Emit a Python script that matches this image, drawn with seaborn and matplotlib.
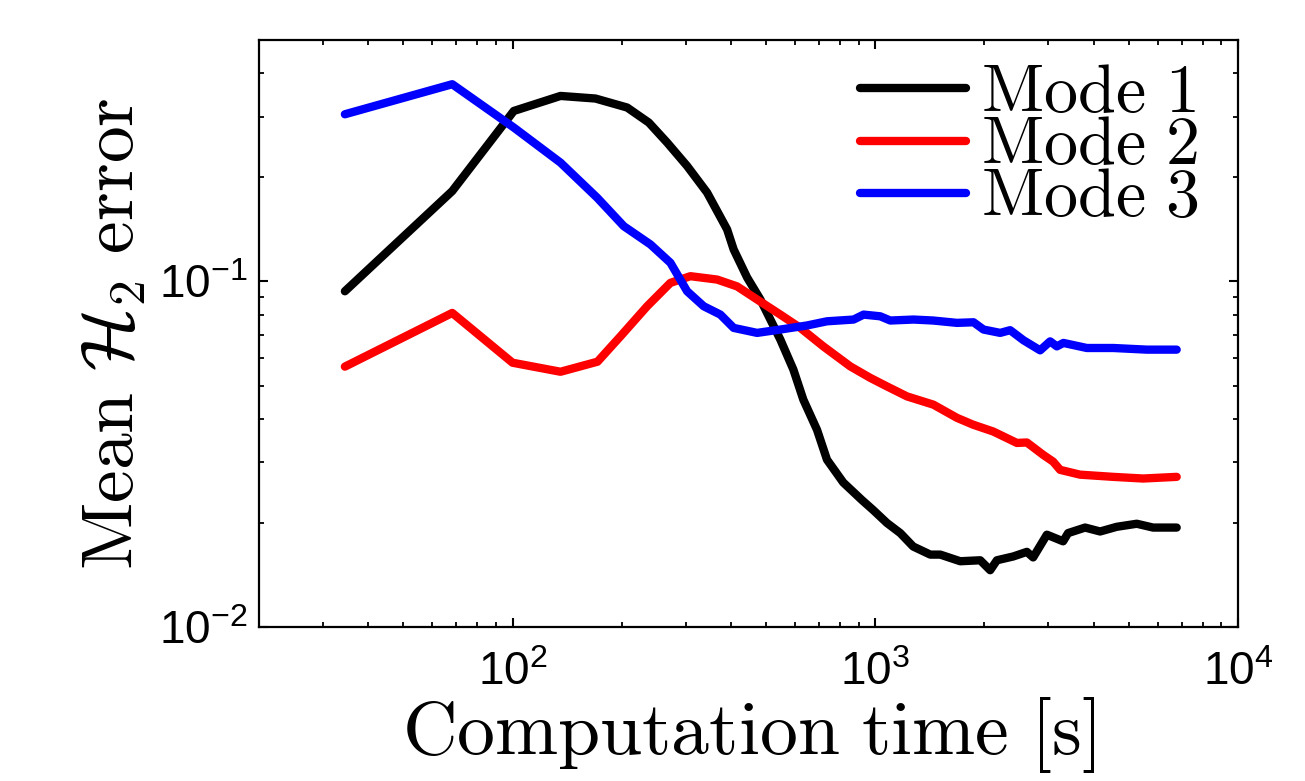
import numpy as np
import pandas as pd
import matplotlib
matplotlib.use("Agg")
import matplotlib.pyplot as plt
import matplotlib.ticker as mticker
import seaborn as sns

# values (log-log axes)
mode1_t = [34.5, 68.2, 100.8, 135.6, 169.3, 207, 237.5, 266.9, 302.9, 343.9, 390.4, 407,
           443.3, 482.3, 547.4, 594.6, 633.4, 691, 736, 816, 919, 987, 1077, 1172, 1272,
           1418, 1511, 1715, 1947, 2074, 2164, 2400, 2618, 2724, 2972, 3295, 3401, 3789,
           4167, 4633, 5259, 5833, 6776]
mode1_err = [0.0937, 0.1827, 0.3116, 0.3444, 0.3385, 0.3188, 0.2884, 0.2523, 0.2159, 0.1808,
             0.1415, 0.1238, 0.1027, 0.0887, 0.0679, 0.0556, 0.0455, 0.0372, 0.0305, 0.0262,
             0.0233, 0.0218, 0.0200, 0.0187, 0.0171, 0.0162, 0.0162, 0.0155, 0.0156, 0.0146,
             0.0156, 0.0160, 0.0165, 0.0159, 0.0185, 0.0177, 0.0187, 0.0194, 0.0189, 0.0195,
             0.0199, 0.0194, 0.0194]

mode2_t = [34.5, 68.2, 100, 135.6, 171.5, 198.4, 235, 272.4, 309.3, 366.4, 415.9, 472.3,
           547.4, 621.5, 719, 853.3, 969, 1077, 1223, 1447, 1680, 1862, 2114, 2457, 2618,
           2903, 3093, 3233, 3670, 4524, 5474, 6776]
mode2_err = [0.0567, 0.0811, 0.0582, 0.0548, 0.0586, 0.0694, 0.0848, 0.0991, 0.1036, 0.1013,
             0.0968, 0.0887, 0.0802, 0.0734, 0.0649, 0.0568, 0.0526, 0.0497, 0.0465, 0.0440,
             0.0403, 0.0385, 0.0368, 0.0341, 0.0342, 0.0315, 0.0301, 0.0285, 0.0276, 0.0272,
             0.0269, 0.0272]

mode3_t = [34.5, 68.2, 100.8, 135.6, 171.1, 202.6, 240, 272.4, 302.9, 336.5, 374.1, 407,
           472.3, 547.4, 648.3, 736, 871.3, 928.6, 1032, 1100, 1275, 1444, 1680, 1866, 1988,
           2210, 2354, 2562, 2848, 3034, 3166, 3302, 3830, 4533, 5603, 6776]
mode3_err = [0.3048, 0.3724, 0.2790, 0.2208, 0.1748, 0.1446, 0.1280, 0.1133, 0.0937, 0.0848,
             0.0802, 0.0734, 0.0710, 0.0726, 0.0746, 0.0767, 0.0776, 0.0802, 0.0793, 0.0771,
             0.0776, 0.0771, 0.0759, 0.0762, 0.0726, 0.0710, 0.0723, 0.0676, 0.0632, 0.0671,
             0.0649, 0.0664, 0.0642, 0.0642, 0.0635, 0.0635]

mode_names = ["Mode 1", "Mode 2", "Mode 3"]
mode_colors = ["#000000", "#ff0000", "#0000ff"]

df = pd.concat([
    pd.DataFrame({"time": mode1_t, "err": mode1_err, "mode": mode_names[0]}),
    pd.DataFrame({"time": mode2_t, "err": mode2_err, "mode": mode_names[1]}),
    pd.DataFrame({"time": mode3_t, "err": mode3_err, "mode": mode_names[2]}),
], ignore_index=True)

sns.set_theme(style="white")
plt.rcParams['font.family'] = ['Liberation Sans', 'DejaVu Sans']
plt.rcParams['mathtext.fontset'] = 'cm'
plt.rcParams['text.color'] = 'black'
plt.rcParams['axes.labelcolor'] = 'black'

fig = plt.figure(figsize=(13.05, 7.81), dpi=100)
ax = fig.add_axes([259 / 1305, 1 - 627 / 781, (1238 - 259) / 1305, (627 - 40) / 781])

sns.lineplot(data=df, x="time", y="err", hue="mode", hue_order=mode_names,
             palette=dict(zip(mode_names, mode_colors)), estimator=None, sort=False,
             linewidth=6, ax=ax)

ax.set_xscale("log")
ax.set_yscale("log")
ax.set_xlim(20, 1e4)
ax.set_ylim(0.01, 0.5)
ax.xaxis.set_minor_formatter(mticker.NullFormatter())
ax.yaxis.set_minor_formatter(mticker.NullFormatter())
ax.xaxis.set_ticks_position("both")
ax.yaxis.set_ticks_position("both")

for s in ax.spines.values():
    s.set_visible(True)
    s.set_color("black")
    s.set_linewidth(1.6)

ax.tick_params(which="both", direction="in", top=True, right=True, bottom=True, left=True,
               color="black", labelsize=33, labelcolor="black")
ax.tick_params(which="major", length=6.5, width=1.5)
ax.tick_params(which="minor", length=3.8, width=1.3)
ax.tick_params(axis="x", which="major", pad=17)
ax.tick_params(axis="y", which="major", pad=8)

ax.set_xlabel(r"$\mathrm{Computation\ time\ [s]}$", fontsize=54.5, labelpad=0, color="black")
ax.set_ylabel(r"$\mathrm{Mean}\ \mathcal{H}_2\ \mathrm{error}$", fontsize=53, labelpad=8,
              color="black")

handles, _ = ax.get_legend_handles_labels()
ax.legend(handles, [r"$\mathrm{Mode\ 1}$", r"$\mathrm{Mode\ 2}$", r"$\mathrm{Mode\ 3}$"],
          loc="upper right", bbox_to_anchor=(0.96, 0.962), frameon=False, fontsize=49,
          handlelength=1.56, handletextpad=0.22, labelspacing=-0.176, borderaxespad=0.0,
          borderpad=0.0, labelcolor="black")
ax.grid(False)

fig.savefig("out.png", dpi=100, facecolor="white")
